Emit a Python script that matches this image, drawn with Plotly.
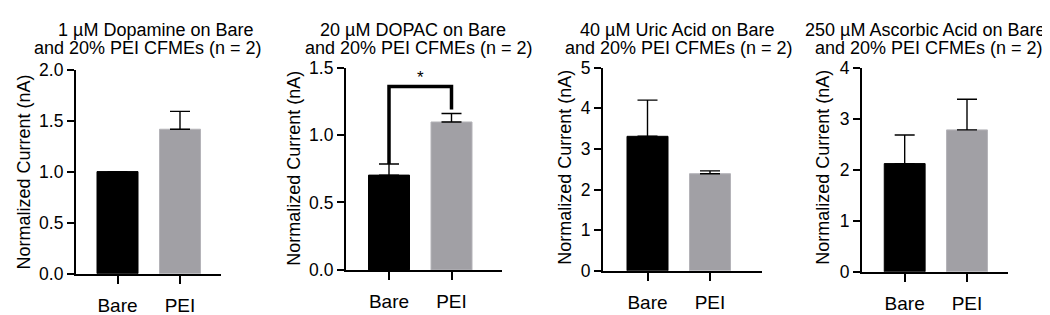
import plotly.graph_objects as go

# ---------------- data ----------------
categories = ["Bare", "PEI"]
title_line1 = [
    "1 µM Dopamine on Bare",
    "20 µM DOPAC on Bare",
    "40 µM Uric Acid on Bare",
    "250 µM Ascorbic Acid on Bare",
]
title_line2 = "and 20% PEI CFMEs (n = 2)"
y_title = "Normalized Current (nA)"

dopamine_mean = [1.0, 1.415]
dopamine_err = [0.0, 0.175]
dopac_mean = [0.703, 1.097]
dopac_err = [0.082, 0.063]
uric_mean = [3.31, 2.39]
uric_err = [0.89, 0.07]
ascorbic_mean = [2.12, 2.78]
ascorbic_err = [0.56, 0.60]

y_max = [2.0, 1.5, 5, 4]
y_dtick = [0.5, 0.5, 1, 1]
y_format = [".1f", ".1f", "d", "d"]

sig_label = "*"
sig_bracket_top = 1.36
sig_right_end = 1.19

means = [dopamine_mean, dopac_mean, uric_mean, ascorbic_mean]
errs = [dopamine_err, dopac_err, uric_err, ascorbic_err]

# ---------------- layout geometry (pixels) ----------------
W, H = 1050, 315
# (x_left, x_right, y_top, y_bottom) of each plot area
boxes = [(68, 213, 55, 273), (338, 494, 53, 269), (595, 754, 53, 270), (854, 1000, 53, 271)]
x_ranges = [(-0.664, 1.656), (-0.688, 1.808), (-0.712, 1.832), (-0.685, 1.658)]
title_cx = [(147, 140), (405, 411), (669, 671), (917, 921)]
ytitle_cx = [(16, 165), (286, 161), (557, 160), (815, 160)]

FONT = "Arial, Liberation Sans, Helvetica, sans-serif"
TITLE_SIZE = 18
bar_colors = ["#000000", "#a1a0a5"]
bar_lines = ["#000000", "#b4b3b8"]

fig = go.Figure()
layout = dict(
    width=W, height=H,
    margin=dict(l=0, r=0, t=0, b=0),
    paper_bgcolor="white", plot_bgcolor="white",
    showlegend=False,
    font=dict(family=FONT, color="black"),
)
annotations = []

for i in range(4):
    sfx = "" if i == 0 else str(i + 1)
    xl, xr, yt, yb = boxes[i]
    fig.add_trace(go.Bar(
        x=categories, y=means[i],
        xaxis="x" + sfx, yaxis="y" + sfx,
        width=0.656,
        marker=dict(color=bar_colors, line=dict(color=bar_lines, width=1)),
        error_y=dict(type="data", array=errs[i], arrayminus=[0, 0], symmetric=False,
                     color="black", thickness=1.4, width=10),
    ))
    layout["xaxis" + sfx] = dict(
        domain=[xl / W, xr / W], anchor="y" + sfx,
        range=list(x_ranges[i]), type="category",
        showline=True, linecolor="black", linewidth=2.2,
        ticks="outside", ticklen=8, tickwidth=2, tickcolor="black",
        showgrid=False, zeroline=False,
        tickfont=dict(family=FONT, size=19, color="black"),
        ticklabelstandoff=5,
        fixedrange=True,
    )
    layout["yaxis" + sfx] = dict(
        domain=[1 - yb / H, 1 - yt / H], anchor="x" + sfx,
        range=[0, y_max[i]], dtick=y_dtick[i], tick0=0, tickformat=y_format[i],
        showline=True, linecolor="black", linewidth=2.2,
        ticks="outside", ticklen=7, tickwidth=2, tickcolor="black",
        showgrid=False, zeroline=False,
        tickfont=dict(family=FONT, size=17.5, color="black"),
        fixedrange=True,
    )
    l1x, l2x = title_cx[i]
    annotations.append(dict(text=title_line1[i], xref="paper", yref="paper",
                            x=l1x / W, y=1 - 12.5 / H, xanchor="center", yanchor="middle",
                            showarrow=False, borderpad=0,
                            font=dict(family=FONT, size=TITLE_SIZE, color="black")))
    annotations.append(dict(text=title_line2, xref="paper", yref="paper",
                            x=l2x / W, y=1 - 32.5 / H, xanchor="center", yanchor="middle",
                            showarrow=False, borderpad=0,
                            font=dict(family=FONT, size=TITLE_SIZE, color="black")))
    tx, ty = ytitle_cx[i]
    annotations.append(dict(text=y_title, xref="paper", yref="paper",
                            x=tx / W, y=1 - ty / H, xanchor="center", yanchor="middle",
                            textangle=-90, showarrow=False,
                            font=dict(family=FONT, size=18, color="black")))

# significance bracket on DOPAC panel
left_end = dopac_mean[0] + dopac_err[0]
shapes = [dict(
    type="path", xref="x2", yref="y2",
    path=f"M 0,{left_end} L 0,{sig_bracket_top} L 1,{sig_bracket_top} L 1,{sig_right_end}",
    line=dict(color="black", width=3.5),
)]
annotations.append(dict(text=sig_label, xref="x2", yref="y2", x=0.5, y=sig_bracket_top,
                        yanchor="bottom", xanchor="center", yshift=-2, showarrow=False,
                        font=dict(family=FONT, size=17, color="black")))

layout["annotations"] = annotations
layout["shapes"] = shapes
fig.update_layout(**layout)
fig.write_html("out.html")
